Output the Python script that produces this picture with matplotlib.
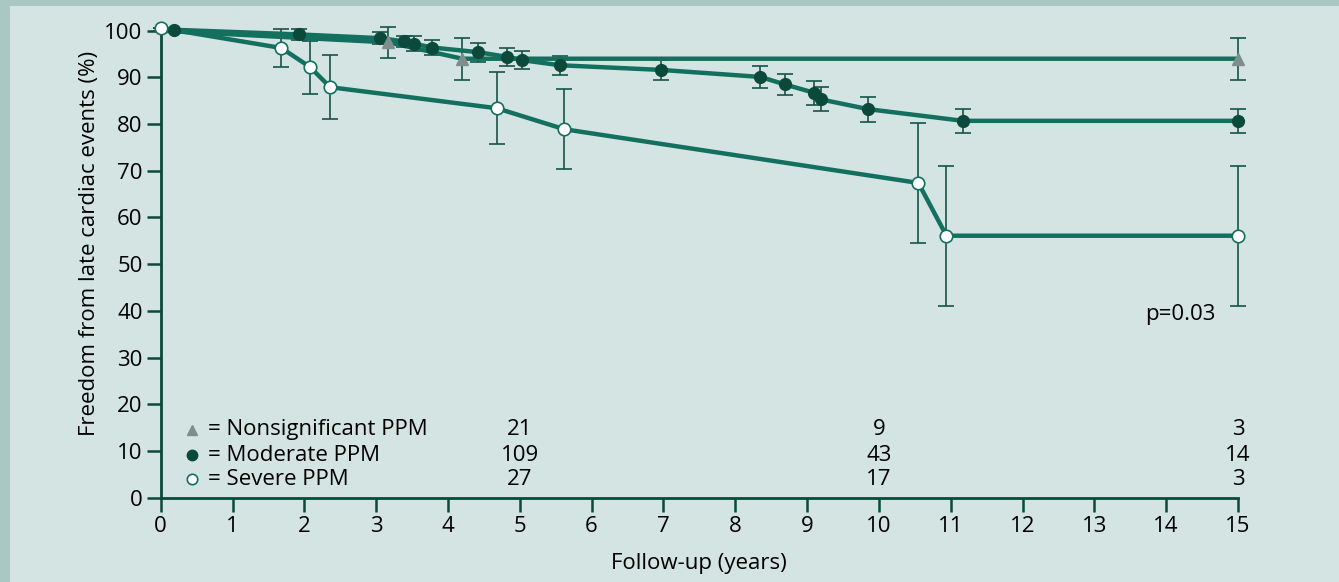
import matplotlib.pyplot as plt
from matplotlib.patches import Rectangle

plt.rcParams['font.family'] = ['Open Sans', 'DejaVu Sans']

# --- data ---
nonsig_x = [0, 3.17, 4.2, 15]
nonsig_y = [100, 97.5, 94.0, 94.0]
nonsig_err = [0, 3.3, 4.5, 4.5]

mod_x = [0.18, 1.93, 3.06, 3.39, 3.53, 3.78, 4.42, 4.82, 5.03, 5.56, 6.97,
         8.35, 8.69, 9.10, 9.19, 9.85, 11.17, 15]
mod_y = [100.2, 99.2, 98.4, 97.7, 97.2, 96.4, 95.4, 94.4, 93.7, 92.6, 91.6,
         90.1, 88.5, 86.7, 85.3, 83.2, 80.7, 80.7]
mod_err = [0, 1.1, 1.3, 1.2, 1.6, 1.6, 2.0, 2.0, 2.0, 2.0, 2.2,
           2.3, 2.3, 2.6, 2.6, 2.7, 2.6, 2.6]

sev_x = [0, 1.68, 2.08, 2.36, 4.68, 5.62, 10.55, 10.94, 15]
sev_y = [100.6, 96.3, 92.2, 87.9, 83.4, 78.9, 67.4, 56.1, 56.1]
sev_err = [0, 4.0, 5.7, 6.8, 7.7, 8.6, 12.8, 15.0, 15.0]

risk_x = [5, 10, 15]
risk_nonsig = ['21', '9', '3']
risk_mod = ['109', '43', '14']
risk_sev = ['27', '17', '3']

line_col = '#13705f'
dark = '#0b4a3b'
err_col = '#165546'
tri_col = '#7d8f8b'
bg_in = '#d4e4e2'
bg_out = '#a9c8c3'
fs = 16

fig = plt.figure(figsize=(13.39, 5.82), dpi=100)
fig.patch.set_facecolor(bg_out)
fig.patches.append(Rectangle((10 / 1339, 0), 1, 1 - 6 / 582, transform=fig.transFigure,
                             facecolor=bg_in, edgecolor='none', zorder=-5))
ax = fig.add_axes([160.7 / 1339, 1 - 497.7 / 582, (1238 - 160.7) / 1339, 467 / 582])
ax.set_facecolor('none')
ax.set_zorder(2)

ekw = dict(ecolor=err_col, elinewidth=1.2, capsize=6, capthick=1.2, clip_on=False)

# moderate
ax.errorbar(mod_x, mod_y, yerr=mod_err, fmt='none', zorder=2, **ekw)
ax.plot(mod_x, mod_y, color=line_col, lw=3.2, zorder=3, clip_on=False)
ax.plot(mod_x, mod_y, 'o', color=dark, ms=8.5, zorder=4, clip_on=False)

# nonsignificant
ax.errorbar(nonsig_x, nonsig_y, yerr=nonsig_err, fmt='none', zorder=2, **ekw)
ax.plot(nonsig_x, nonsig_y, color=line_col, lw=3.2, zorder=3, clip_on=False)
ax.plot(nonsig_x[1:], nonsig_y[1:], '^', color=tri_col, ms=8.5, zorder=5, clip_on=False)

# severe
ax.errorbar(sev_x, sev_y, yerr=sev_err, fmt='none', zorder=2, **ekw)
ax.plot(sev_x, sev_y, color=line_col, lw=3.2, zorder=3, clip_on=False)
ax.plot(sev_x, sev_y, 'o', mfc='white', mec=line_col, mew=1.2, ms=9, zorder=6, clip_on=False)

ax.set_xlim(0, 15)
ax.set_ylim(0, 100)
ax.set_xticks(range(0, 16))
ax.set_yticks(range(0, 101, 10))
for s in ['top', 'right']:
    ax.spines[s].set_visible(False)
for s in ['left', 'bottom']:
    ax.spines[s].set_color(dark)
    ax.spines[s].set_linewidth(2)
ax.tick_params(length=10, width=1.8, color=dark, labelsize=fs, pad=3)

ax.set_xlabel('Follow-up (years)', fontsize=fs, labelpad=12)
ax.set_ylabel('Freedom from late cardiac events (%)', fontsize=fs)
ax.yaxis.set_label_coords(-0.056, 0.545)

# legend / numbers at risk
rows_y = [14.6, 9.1, 3.9]
labels = ['= Nonsignificant PPM', '= Moderate PPM', '= Severe PPM']
ax.plot(0.43, rows_y[0], '^', color=tri_col, ms=7)
ax.plot(0.43, rows_y[1], 'o', color=dark, ms=7.5)
ax.plot(0.43, rows_y[2], 'o', mfc='white', mec=line_col, mew=1.2, ms=7.5)
for yy, lab in zip(rows_y, labels):
    ax.text(0.66, yy, lab, fontsize=fs, va='center', ha='left')
for i, xx in enumerate(risk_x):
    ax.text(xx, rows_y[0], risk_nonsig[i], fontsize=fs, va='center', ha='center')
    ax.text(xx, rows_y[1], risk_mod[i], fontsize=fs, va='center', ha='center')
    ax.text(xx, rows_y[2], risk_sev[i], fontsize=fs, va='center', ha='center')

ax.text(14.2, 39.2, 'p=0.03', fontsize=fs, va='center', ha='center')

fig.savefig('out.png', dpi=100, facecolor=fig.get_facecolor())
